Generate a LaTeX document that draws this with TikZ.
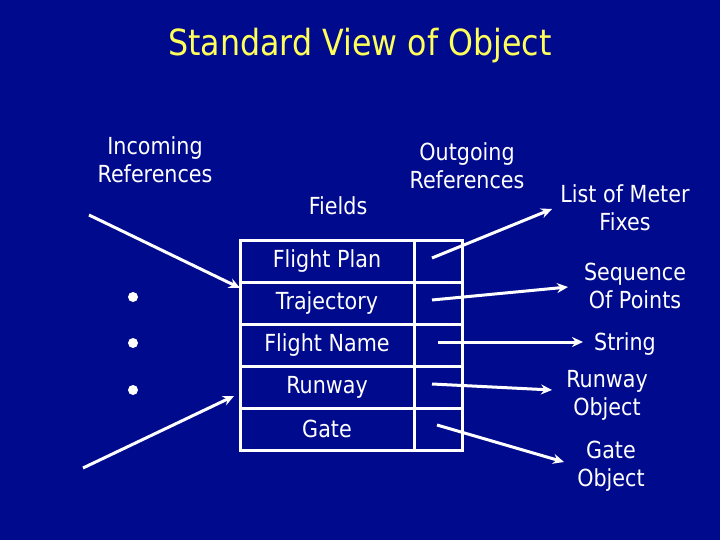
\documentclass[tikz,border=0pt]{standalone}
\usepackage{fontspec}
\setmainfont{DejaVu Sans}[FakeStretch=0.88]
\usetikzlibrary{arrows.meta}
\definecolor{bg}{RGB}{0,10,140}
\definecolor{ttl}{RGB}{255,255,90}
\begin{document}
\begin{tikzpicture}[x=1pt,y=-1pt,
  lbl/.style={text=white,font=\fontsize{23.5}{28}\selectfont,align=center,inner sep=0pt},
  cell/.style={draw=white,line width=3pt,minimum width=174pt,minimum height=42pt,inner sep=0pt,text=white,font=\fontsize{23.5}{28}\selectfont},
  rcell/.style={draw=white,line width=3pt,minimum width=48pt,minimum height=42pt,inner sep=0pt},
  dot/.style={circle,fill=white,minimum size=10pt,inner sep=0pt},
  arr/.style={draw=white,line width=3pt,-{Stealth[length=11pt,width=10pt]}}]
\fill[bg] (0,0) rectangle (720,540);
\useasboundingbox (0,0) rectangle (720,540);
% title
\node[text=ttl,font=\fontsize{36}{42}\selectfont,inner sep=0pt] (title) at (360,46) {Standard View of Object};
% headers
\node[lbl] (inc) at (155,160) {Incoming\\References};
\node[lbl] (fields) at (338,206) {Fields};
\node[lbl] (out) at (467,166) {Outgoing\\References};
% table
\node[cell] (f1) at (327,261.5) {Flight Plan};
\node[cell] (f2) at (327,303) {Trajectory};
\node[cell] (f3) at (327,345) {Flight Name};
\node[cell] (f4) at (327,387) {Runway};
\node[cell] (f5) at (327,429) {Gate};
\node[rcell] (r1) at (438,261.5) {};
\node[rcell] (r2) at (438,303) {};
\node[rcell] (r3) at (438,345) {};
\node[rcell] (r4) at (438,387) {};
\node[rcell] (r5) at (438,429) {};
% dots
\node[dot] (d1) at (133,297) {};
\node[dot] (d2) at (133,343) {};
\node[dot] (d3) at (133,390) {};
% targets
\node[lbl] (t1) at (625,208) {List of Meter\\Fixes};
\node[lbl] (t2) at (635,286) {Sequence\\Of Points};
\node[lbl] (t3) at (625,344) {String};
\node[lbl] (t4) at (607,395) {Runway\\Object};
\node[lbl] (t5) at (611,466) {Gate\\Object};
% incoming arrows
\coordinate (a1) at (89,215);
\coordinate (a2) at (83,468);
\coordinate (e1) at (240,288);
\coordinate (e2) at (234,396);
\draw[arr] (a1) -- (e1);
\draw[arr] (a2) -- (e2);
% outgoing arrows
\coordinate (s1) at (432,258);
\coordinate (s2) at (432,300);
\coordinate (s3) at (438,342);
\coordinate (s4) at (432,384);
\coordinate (s5) at (437,425);
\coordinate (g1) at (552,209);
\coordinate (g2) at (568,287);
\coordinate (g3) at (583,342);
\coordinate (g4) at (552,390);
\coordinate (g5) at (564,462);
\draw[arr] (s1) -- (g1);
\draw[arr] (s2) -- (g2);
\draw[arr] (s3) -- (g3);
\draw[arr] (s4) -- (g4);
\draw[arr] (s5) -- (g5);
\end{tikzpicture}
\end{document}
